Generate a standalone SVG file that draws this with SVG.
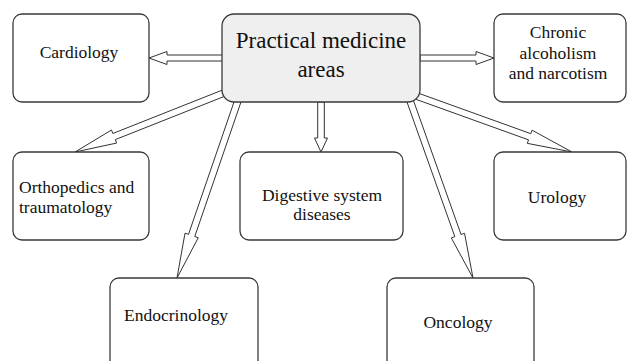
<svg xmlns="http://www.w3.org/2000/svg" width="627" height="361" viewBox="0 0 627 361" font-family="'Liberation Serif', 'DejaVu Serif', serif">
<style>
.box{fill:#fff;stroke:#3a3a3a;stroke-width:1.3}
.main{fill:#efefef;stroke:#3a3a3a;stroke-width:1.3}
.arr{fill:#fff;stroke:#333;stroke-width:1;stroke-linejoin:miter}
text{font-family:'Liberation Serif','DejaVu Serif',serif;fill:#111;font-size:17.5px}
.c{text-anchor:middle}
.big{font-size:23px}
</style>
<rect width="627" height="361" fill="#fff"/>
<g id="connectors">
<polygon class="arr" points="223,55 167,55 167,51.5 149,58 167,64.5 167,61 223,61"/>
<polygon class="arr" points="420,55 476,55 476,51.5 494,58 476,64.5 476,61 420,61"/>
<polygon class="arr" points="317.7,102 317.7,138 314.5,138 321,152 327.5,138 324.3,138 324.3,102"/>
<polygon class="arr" points="231.21,93.67 115.27,139.61 116.64,143.05 75,152 111.48,130.03 112.85,133.47 228.79,87.53"/>
<polygon class="arr" points="243.02,96.07 194.75,236.51 198.25,237.72 177,278 185.01,233.16 188.51,234.37 236.78,93.93"/>
<polygon class="arr" points="411.11,93.9 461.05,234.5 464.54,233.26 473,278 451.34,237.94 454.83,236.7 404.89,96.1"/>
<polygon class="arr" points="410.88,97.5 528.54,139.86 527.29,143.35 572,152 532.03,130.17 530.78,133.66 413.12,91.3"/>
</g>
<g id="main">
<rect class="main" x="222" y="14" width="198" height="88" rx="12"/>
<text class="c big" x="321" y="48">Practical medicine</text>
<text class="c big" x="321" y="77">areas</text>
</g>
<g id="cardiology">
<rect class="box" x="13" y="14" width="136" height="88" rx="9"/>
<text class="c" x="79" y="57.5">Cardiology</text>
</g>
<g id="chronic">
<rect class="box" x="494" y="14" width="132" height="88" rx="9"/>
<text class="c" x="558" y="38">Chronic</text>
<text class="c" x="558" y="58.5">alcoholism</text>
<text class="c" x="558" y="79">and narcotism</text>
</g>
<g id="orthopedics">
<rect class="box" x="13" y="152" width="136" height="88" rx="9"/>
<text x="19" y="193.3">Orthopedics and</text>
<text x="19" y="213.3">traumatology</text>
</g>
<g id="digestive">
<rect class="box" x="240" y="152" width="163" height="88" rx="9"/>
<text class="c" x="322" y="200.5">Digestive system</text>
<text class="c" x="322" y="220">diseases</text>
</g>
<g id="urology">
<rect class="box" x="494" y="152" width="132" height="88" rx="9"/>
<text class="c" x="557" y="203.3">Urology</text>
</g>
<g id="endocrinology">
<rect class="box" x="110" y="278" width="148" height="100" rx="9"/>
<text x="124" y="321">Endocrinology</text>
</g>
<g id="oncology">
<rect class="box" x="387" y="278" width="147" height="100" rx="9"/>
<text class="c" x="458" y="328.3">Oncology</text>
</g>
</svg>
